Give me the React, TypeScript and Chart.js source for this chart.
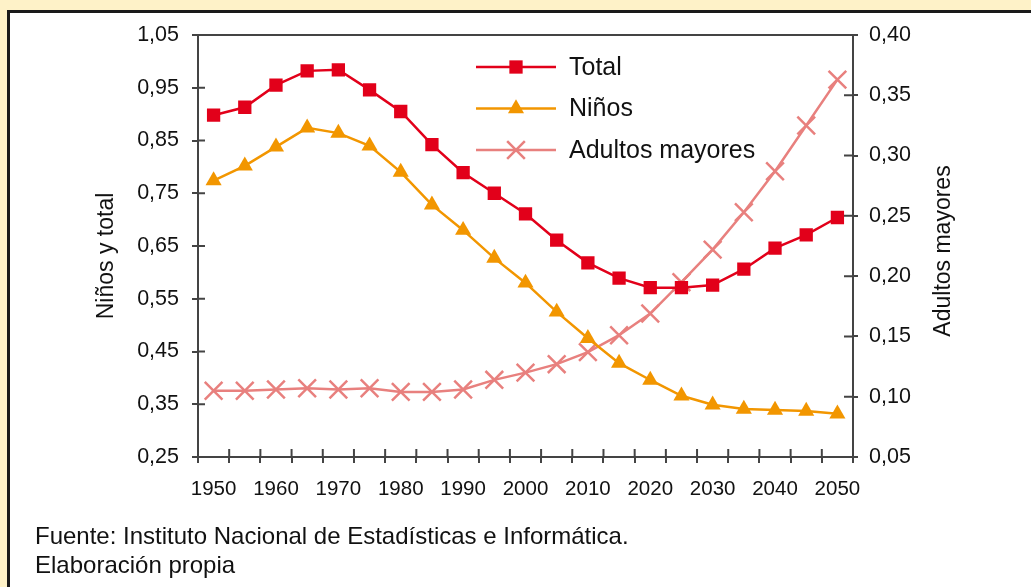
import React, { useEffect, useRef } from 'react';
import { Chart, registerables } from 'chart.js';
import { drawPoint } from 'chart.js/helpers';

Chart.register(...registerables);

const years = ['1950','1955','1960','1965','1970','1975','1980','1985','1990','1995','2000','2005','2010','2015','2020','2025','2030','2035','2040','2045','2050'];
const xTickLabels = ['1950','1960','1970','1980','1990','2000','2010','2020','2030','2040','2050'];
const total = [0.898,0.913,0.955,0.982,0.984,0.946,0.905,0.842,0.789,0.750,0.711,0.661,0.618,0.589,0.571,0.571,0.576,0.606,0.646,0.671,0.704];
const ninos = [0.774,0.802,0.838,0.874,0.864,0.840,0.790,0.728,0.680,0.627,0.580,0.525,0.475,0.428,0.396,0.366,0.349,0.341,0.339,0.337,0.332];
const adultos = [0.105,0.105,0.106,0.107,0.106,0.107,0.104,0.104,0.106,0.114,0.120,0.127,0.137,0.151,0.169,0.195,0.222,0.253,0.287,0.325,0.363];
const leftTicks = [0.25,0.35,0.45,0.55,0.65,0.75,0.85,0.95,1.05];
const rightTicks = [0.05,0.10,0.15,0.20,0.25,0.30,0.35,0.40];
const seriesNames = ['Total','Niños','Adultos mayores'];
const leftTitle = 'Niños y total';
const rightTitle = 'Adultos mayores';
const sourceLines = ['Fuente: Instituto Nacional de Estadísticas e Informática.','Elaboración propia'];

const FONT = "'Liberation Sans', Arial, Helvetica, sans-serif";
const AXIS = '#444444';
const RED = '#E2001A';
const ORANGE = '#F29600';
const PINK = '#E8807E';

const fmt = (v: number) => Number(v).toFixed(2).replace('.', ',');

const extrasPlugin = {
  id: 'extras',
  beforeDatasetsDraw(chart: any) {
    const { ctx, chartArea } = chart;
    const { left, right, top, bottom } = chartArea;
    ctx.save();
    ctx.strokeStyle = AXIS;
    ctx.lineWidth = 2;
    ctx.beginPath();
    ctx.moveTo(left - 1, top);
    ctx.lineTo(right + 1, top);
    ctx.stroke();
    const yl = chart.scales.y;
    const yr = chart.scales.y1;
    const xs = chart.scales.x;
    ctx.beginPath();
    leftTicks.forEach((v) => {
      const py = yl.getPixelForValue(v);
      ctx.moveTo(left, py);
      ctx.lineTo(left + 7, py);
    });
    rightTicks.forEach((v) => {
      const py = yr.getPixelForValue(v);
      ctx.moveTo(right, py);
      ctx.lineTo(right - 9, py);
    });
    const step = xs.getPixelForValue(1) - xs.getPixelForValue(0);
    for (let i = 0; i <= years.length; i++) {
      const px = xs.getPixelForValue(0) - step / 2 + i * step;
      ctx.moveTo(px, bottom);
      ctx.lineTo(px, bottom - 8);
    }
    ctx.stroke();
    ctx.restore();
  },
  afterDraw(chart: any) {
    const { ctx, chartArea } = chart;
    ctx.save();
    const lx0 = chartArea.left + 278;
    const lx1 = lx0 + 80;
    const ly0 = chartArea.top + 32;
    const gap = 41.5;
    ctx.font = `25px ${FONT}`;
    ctx.textBaseline = 'middle';
    ctx.textAlign = 'left';
    chart.data.datasets.forEach((ds: any, i: number) => {
      const y = ly0 + i * gap;
      ctx.strokeStyle = ds.borderColor;
      ctx.lineWidth = ds.borderWidth;
      ctx.beginPath();
      ctx.moveTo(lx0, y);
      ctx.lineTo(lx1, y);
      ctx.stroke();
      ctx.fillStyle = ds.pointBackgroundColor;
      ctx.strokeStyle = ds.pointBorderColor;
      ctx.lineWidth = ds.pointBorderWidth;
      drawPoint(ctx, { pointStyle: ds.pointStyle, radius: ds.pointRadius, rotation: 0, borderWidth: ds.pointBorderWidth }, (lx0 + lx1) / 2, y);
      ctx.fillStyle = '#111';
      ctx.fillText(ds.label, lx1 + 13, y + 1);
    });
    ctx.font = `23px ${FONT}`;
    ctx.fillStyle = '#111';
    ctx.textAlign = 'center';
    ctx.textBaseline = 'middle';
    const midY = (chartArea.top + chartArea.bottom) / 2;
    ctx.save();
    ctx.translate(chartArea.left - 91, midY + 10);
    ctx.rotate(-Math.PI / 2);
    ctx.fillText(leftTitle, 0, 0);
    ctx.restore();
    ctx.save();
    ctx.translate(chartArea.right + 91, midY + 5);
    ctx.rotate(-Math.PI / 2);
    ctx.fillText(rightTitle, 0, 0);
    ctx.restore();
    ctx.restore();
  },
};

function App() {
  const ref = useRef<HTMLCanvasElement | null>(null);
  useEffect(() => {
    if (!ref.current) return;
    const chart = new Chart(ref.current, {
      type: 'line',
      data: {
        labels: years,
        datasets: [
          {
            label: seriesNames[0], data: total, yAxisID: 'y',
            borderColor: RED, backgroundColor: RED, borderWidth: 2.5,
            pointStyle: 'rect', pointRadius: 9.4, pointHoverRadius: 9.4,
            pointBackgroundColor: RED, pointBorderColor: RED, pointBorderWidth: 0,
            tension: 0,
          },
          {
            label: seriesNames[1], data: ninos, yAxisID: 'y',
            borderColor: ORANGE, backgroundColor: ORANGE, borderWidth: 2.5,
            pointStyle: 'triangle', pointRadius: 9.3, pointHoverRadius: 9.3,
            pointBackgroundColor: ORANGE, pointBorderColor: ORANGE, pointBorderWidth: 0,
            tension: 0,
          },
          {
            label: seriesNames[2], data: adultos, yAxisID: 'y1',
            borderColor: PINK, backgroundColor: PINK, borderWidth: 2.5,
            pointStyle: 'crossRot', pointRadius: 12.5, pointHoverRadius: 12.5,
            pointBackgroundColor: PINK, pointBorderColor: PINK, pointBorderWidth: 2.5,
            tension: 0,
          },
        ],
      },
      options: {
        responsive: false,
        animation: false,
        devicePixelRatio: 1,
        layout: { padding: { left: 0, top: 35, right: 0, bottom: 80 } },
        plugins: { legend: { display: false }, tooltip: { enabled: false } },
        events: [],
        scales: {
          x: {
            type: 'category',
            offset: true,
            grid: { offset: true, drawOnChartArea: false, color: AXIS, lineWidth: 2, tickLength: 6 },
            border: { display: true, color: AXIS, width: 2 },
            ticks: {
              autoSkip: false, maxRotation: 0, minRotation: 0, padding: 14,
              color: '#111', font: { family: FONT, size: 20.5 },
              callback: (_v: any, i: number) => (xTickLabels.includes(years[i]) ? years[i] : ''),
            },
            afterFit: (s: any) => { s.height = 50; },
          },
          y: {
            type: 'linear', position: 'left', min: 0.25, max: 1.05,
            grid: { drawOnChartArea: false, color: AXIS, lineWidth: 2, tickLength: 6 },
            border: { display: true, color: AXIS, width: 2 },
            afterBuildTicks: (s: any) => { s.ticks = leftTicks.map((value) => ({ value })); },
            ticks: { padding: 13, color: '#111', font: { family: FONT, size: 21.5 }, callback: (v: any) => fmt(v) },
            afterFit: (s: any) => { s.width = 198; },
          },
          y1: {
            type: 'linear', position: 'right', min: 0.05, max: 0.40,
            grid: { drawOnChartArea: false, color: AXIS, lineWidth: 2, tickLength: 5 },
            border: { display: true, color: AXIS, width: 2 },
            afterBuildTicks: (s: any) => { s.ticks = rightTicks.map((value) => ({ value })); },
            ticks: { padding: 11, color: '#111', font: { family: FONT, size: 21.5 }, callback: (v: any) => fmt(v) },
            afterFit: (s: any) => { s.width = 178; },
          },
        },
      },
      plugins: [extrasPlugin],
    } as any);
    return () => chart.destroy();
  }, []);

  return (
    <div style={{ position: 'fixed', left: 0, top: 0, width: 1031, height: 587, overflow: 'hidden', background: '#FEF2C8' }}>
      <div style={{ position: 'absolute', left: 7, top: 10, width: 1100, height: 700, border: '3px solid #1a1a1a', background: '#ffffff' }} />
      <canvas ref={ref} width={1031} height={587} style={{ position: 'absolute', left: 0, top: 0, width: 1031, height: 587 }} />
      <div style={{ position: 'absolute', left: 35, top: 522, fontFamily: FONT, fontSize: 24, lineHeight: '28.7px', color: '#111', whiteSpace: 'nowrap' }}>
        {sourceLines.map((t) => (<div key={t}>{t}</div>))}
      </div>
    </div>
  );
}

export default App;
